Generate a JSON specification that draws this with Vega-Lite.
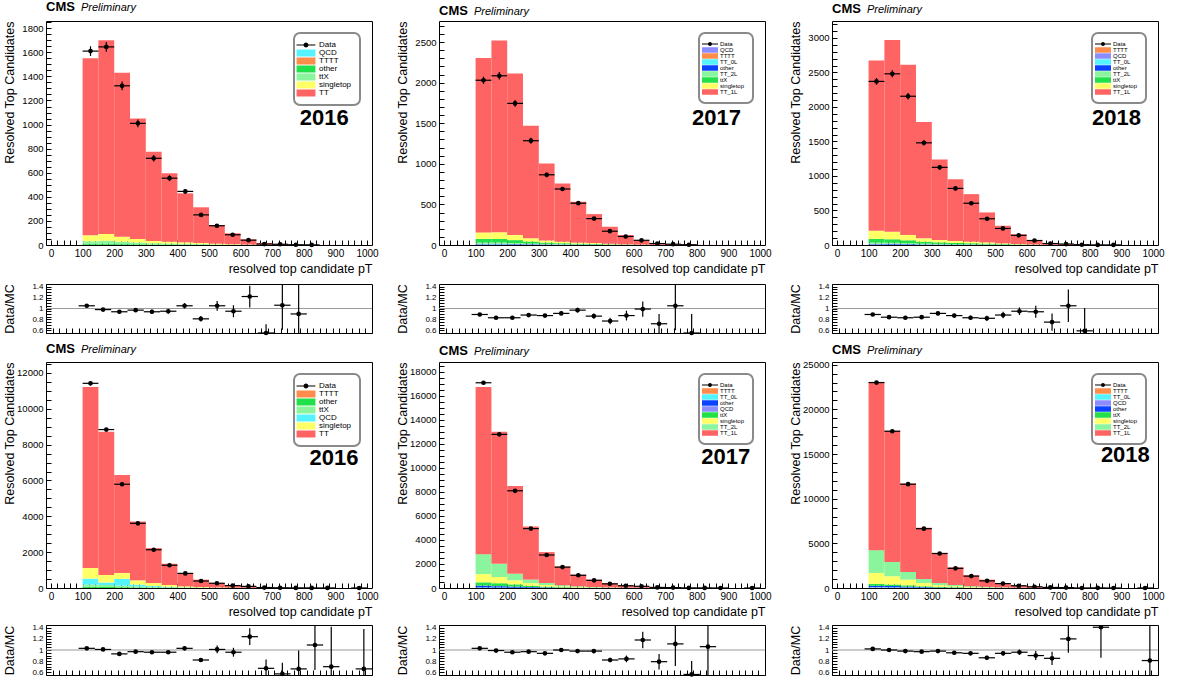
{
  "$schema": "https://vega.github.io/schema/vega-lite/v6.json",
  "background": "white",
  "padding": {"left": 2, "top": 0, "right": 0, "bottom": 0},
  "spacing": 4,
  "resolve": {"scale": {"color": "independent"}, "legend": {"color": "independent"}},
  "datasets": {
    "hA16": [
      {"lo":100,"hi":150,"QCD":1,"TTTT":1,"other":7,"ttX":22,"singletop":49,"TT":1471},
      {"lo":150,"hi":200,"QCD":1,"TTTT":1,"other":8,"ttX":25,"singletop":56,"TT":1609},
      {"lo":200,"hi":250,"QCD":1,"TTTT":1,"other":6,"ttX":20,"singletop":41,"TT":1361},
      {"lo":250,"hi":300,"QCD":0,"TTTT":1,"other":5,"ttX":15,"singletop":29,"TT":1000},
      {"lo":300,"hi":350,"QCD":0,"TTTT":1,"other":4,"ttX":10,"singletop":18,"TT":742},
      {"lo":350,"hi":400,"QCD":0,"TTTT":1,"other":3,"ttX":9,"singletop":15,"TT":567},
      {"lo":400,"hi":450,"QCD":0,"TTTT":1,"other":3,"ttX":7,"singletop":11,"TT":407},
      {"lo":450,"hi":500,"QCD":0,"TTTT":1,"other":2,"ttX":6,"singletop":8,"TT":296},
      {"lo":500,"hi":550,"QCD":0,"TTTT":0,"other":1,"ttX":4,"singletop":6,"TT":155},
      {"lo":550,"hi":600,"QCD":0,"TTTT":0,"other":1,"ttX":2,"singletop":4,"TT":90},
      {"lo":600,"hi":650,"QCD":0,"TTTT":0,"other":1,"ttX":1,"singletop":2,"TT":43},
      {"lo":650,"hi":700,"QCD":0,"TTTT":0,"other":0,"ttX":1,"singletop":1,"TT":15},
      {"lo":700,"hi":750,"QCD":0,"TTTT":0,"other":0,"ttX":0,"singletop":1,"TT":7},
      {"lo":750,"hi":800,"QCD":0,"TTTT":0,"other":0,"ttX":0,"singletop":0,"TT":3},
      {"lo":800,"hi":850,"QCD":0,"TTTT":0,"other":0,"ttX":0,"singletop":0,"TT":1.5},
      {"lo":850,"hi":900,"QCD":0,"TTTT":0,"other":0,"ttX":0,"singletop":0,"TT":0.6},
      {"lo":900,"hi":950,"QCD":0,"TTTT":0,"other":0,"ttX":0,"singletop":0,"TT":0.3},
      {"lo":950,"hi":1000,"QCD":0,"TTTT":0,"other":0,"ttX":0,"singletop":0,"TT":0.2}
    ],
    "dA16": [
      {"lo":100,"hi":150,"c":125,"n":1610,"ne":40,"r":1.05,"re":0.03},
      {"lo":150,"hi":200,"c":175,"n":1645,"ne":41,"r":0.98,"re":0.03},
      {"lo":200,"hi":250,"c":225,"n":1322,"ne":36,"r":0.94,"re":0.03},
      {"lo":250,"hi":300,"c":275,"n":1010,"ne":32,"r":0.97,"re":0.035},
      {"lo":300,"hi":350,"c":325,"n":720,"ne":27,"r":0.94,"re":0.04},
      {"lo":350,"hi":400,"c":375,"n":555,"ne":24,"r":0.95,"re":0.045},
      {"lo":400,"hi":450,"c":425,"n":445,"ne":21,"r":1.05,"re":0.05},
      {"lo":450,"hi":500,"c":475,"n":250,"ne":16,"r":0.81,"re":0.05},
      {"lo":500,"hi":550,"c":525,"n":160,"ne":13,"r":1.05,"re":0.09},
      {"lo":550,"hi":600,"c":575,"n":85,"ne":9,"r":0.95,"re":0.11},
      {"lo":600,"hi":650,"c":625,"n":40,"ne":6,"r":1.22,"re":0.2},
      {"lo":650,"hi":700,"c":675,"n":8,"ne":3,"r":0.53,"re":0.18},
      {"lo":700,"hi":750,"c":725,"n":6,"ne":2.5,"r":1.06,"re":0.45},
      {"lo":750,"hi":800,"c":775,"n":2,"ne":1.4,"r":0.9,"re":0.6},
      {"lo":800,"hi":850,"c":825,"n":1,"ne":1}
    ],
    "hA17": [
      {"lo":100,"hi":150,"QCD":3,"TTTT":1,"TT_0L":5,"other":6,"TT_2L":15,"ttX":45,"singletop":80,"TT_1L":2150},
      {"lo":150,"hi":200,"QCD":3,"TTTT":1,"TT_0L":5,"other":7,"TT_2L":14,"ttX":43,"singletop":85,"TT_1L":2362},
      {"lo":200,"hi":250,"QCD":2,"TTTT":1,"TT_0L":4,"other":6,"TT_2L":12,"ttX":35,"singletop":62,"TT_1L":1990},
      {"lo":250,"hi":300,"QCD":1,"TTTT":1,"TT_0L":3,"other":5,"TT_2L":8,"ttX":25,"singletop":40,"TT_1L":1385},
      {"lo":300,"hi":350,"QCD":1,"TTTT":1,"TT_0L":2,"other":4,"TT_2L":6,"ttX":16,"singletop":24,"TT_1L":950},
      {"lo":350,"hi":400,"QCD":0,"TTTT":1,"TT_0L":2,"other":3,"TT_2L":5,"ttX":12,"singletop":18,"TT_1L":717},
      {"lo":400,"hi":450,"QCD":0,"TTTT":1,"TT_0L":1,"other":2,"TT_2L":4,"ttX":9,"singletop":12,"TT_1L":504},
      {"lo":450,"hi":500,"QCD":0,"TTTT":1,"TT_0L":1,"other":2,"TT_2L":3,"ttX":7,"singletop":10,"TT_1L":357},
      {"lo":500,"hi":550,"QCD":0,"TTTT":0,"TT_0L":1,"other":1,"TT_2L":2,"ttX":5,"singletop":6,"TT_1L":210},
      {"lo":550,"hi":600,"QCD":0,"TTTT":0,"TT_0L":0,"other":1,"TT_2L":1,"ttX":3,"singletop":4,"TT_1L":114},
      {"lo":600,"hi":650,"QCD":0,"TTTT":0,"TT_0L":0,"other":0,"TT_2L":1,"ttX":2,"singletop":2,"TT_1L":56},
      {"lo":650,"hi":700,"QCD":0,"TTTT":0,"TT_0L":0,"other":0,"TT_2L":0,"ttX":1,"singletop":1,"TT_1L":23},
      {"lo":700,"hi":750,"QCD":0,"TTTT":0,"TT_0L":0,"other":0,"TT_2L":0,"ttX":0,"singletop":0,"TT_1L":10},
      {"lo":750,"hi":800,"QCD":0,"TTTT":0,"TT_0L":0,"other":0,"TT_2L":0,"ttX":0,"singletop":0,"TT_1L":5},
      {"lo":800,"hi":850,"QCD":0,"TTTT":0,"TT_0L":0,"other":0,"TT_2L":0,"ttX":0,"singletop":0,"TT_1L":2},
      {"lo":850,"hi":900,"QCD":0,"TTTT":0,"TT_0L":0,"other":0,"TT_2L":0,"ttX":0,"singletop":0,"TT_1L":1},
      {"lo":900,"hi":950,"QCD":0,"TTTT":0,"TT_0L":0,"other":0,"TT_2L":0,"ttX":0,"singletop":0,"TT_1L":0.5},
      {"lo":950,"hi":1000,"QCD":0,"TTTT":0,"TT_0L":0,"other":0,"TT_2L":0,"ttX":0,"singletop":0,"TT_1L":0.3}
    ],
    "dA17": [
      {"lo":100,"hi":150,"c":125,"n":2030,"ne":45,"r":0.89,"re":0.025},
      {"lo":150,"hi":200,"c":175,"n":2085,"ne":46,"r":0.83,"re":0.025},
      {"lo":200,"hi":250,"c":225,"n":1745,"ne":42,"r":0.83,"re":0.025},
      {"lo":250,"hi":300,"c":275,"n":1285,"ne":36,"r":0.88,"re":0.03},
      {"lo":300,"hi":350,"c":325,"n":865,"ne":29,"r":0.87,"re":0.03},
      {"lo":350,"hi":400,"c":375,"n":690,"ne":26,"r":0.91,"re":0.035},
      {"lo":400,"hi":450,"c":425,"n":515,"ne":23,"r":0.97,"re":0.045},
      {"lo":450,"hi":500,"c":475,"n":325,"ne":18,"r":0.86,"re":0.05},
      {"lo":500,"hi":550,"c":525,"n":170,"ne":13,"r":0.77,"re":0.06},
      {"lo":550,"hi":600,"c":575,"n":105,"ne":10,"r":0.87,"re":0.09},
      {"lo":600,"hi":650,"c":625,"n":58,"ne":8,"r":0.99,"re":0.14},
      {"lo":650,"hi":700,"c":675,"n":18,"ne":4,"r":0.72,"re":0.18},
      {"lo":700,"hi":750,"c":725,"n":10,"ne":3,"r":1.05,"re":0.45},
      {"lo":750,"hi":800,"c":775,"n":3,"ne":1.7,"r":0.53,"re":0.37}
    ],
    "hA18": [
      {"lo":100,"hi":150,"TTTT":1,"QCD":3,"TT_0L":5,"other":8,"TT_2L":18,"ttX":52,"singletop":118,"TT_1L":2467},
      {"lo":150,"hi":200,"TTTT":1,"QCD":3,"TT_0L":5,"other":8,"TT_2L":17,"ttX":50,"singletop":108,"TT_1L":2779},
      {"lo":200,"hi":250,"TTTT":1,"QCD":2,"TT_0L":4,"other":7,"TT_2L":14,"ttX":40,"singletop":76,"TT_1L":2466},
      {"lo":250,"hi":300,"TTTT":1,"QCD":1,"TT_0L":3,"other":5,"TT_2L":10,"ttX":28,"singletop":48,"TT_1L":1685},
      {"lo":300,"hi":350,"TTTT":1,"QCD":1,"TT_0L":2,"other":4,"TT_2L":8,"ttX":22,"singletop":34,"TT_1L":1165},
      {"lo":350,"hi":400,"TTTT":1,"QCD":0,"TT_0L":2,"other":3,"TT_2L":6,"ttX":18,"singletop":28,"TT_1L":895},
      {"lo":400,"hi":450,"TTTT":1,"QCD":0,"TT_0L":1,"other":3,"TT_2L":5,"ttX":15,"singletop":23,"TT_1L":689},
      {"lo":450,"hi":500,"TTTT":1,"QCD":0,"TT_0L":1,"other":2,"TT_2L":4,"ttX":12,"singletop":18,"TT_1L":434},
      {"lo":500,"hi":550,"TTTT":0,"QCD":0,"TT_0L":1,"other":1,"TT_2L":3,"ttX":8,"singletop":11,"TT_1L":255},
      {"lo":550,"hi":600,"TTTT":0,"QCD":0,"TT_0L":0,"other":1,"TT_2L":2,"ttX":5,"singletop":6,"TT_1L":140},
      {"lo":600,"hi":650,"TTTT":0,"QCD":0,"TT_0L":0,"other":0,"TT_2L":1,"ttX":3,"singletop":3,"TT_1L":65},
      {"lo":650,"hi":700,"TTTT":0,"QCD":0,"TT_0L":0,"other":0,"TT_2L":0,"ttX":1,"singletop":2,"TT_1L":26},
      {"lo":700,"hi":750,"TTTT":0,"QCD":0,"TT_0L":0,"other":0,"TT_2L":0,"ttX":0,"singletop":1,"TT_1L":13},
      {"lo":750,"hi":800,"TTTT":0,"QCD":0,"TT_0L":0,"other":0,"TT_2L":0,"ttX":0,"singletop":0,"TT_1L":6},
      {"lo":800,"hi":850,"TTTT":0,"QCD":0,"TT_0L":0,"other":0,"TT_2L":0,"ttX":0,"singletop":0,"TT_1L":3},
      {"lo":850,"hi":900,"TTTT":0,"QCD":0,"TT_0L":0,"other":0,"TT_2L":0,"ttX":0,"singletop":0,"TT_1L":1.5},
      {"lo":900,"hi":950,"TTTT":0,"QCD":0,"TT_0L":0,"other":0,"TT_2L":0,"ttX":0,"singletop":0,"TT_1L":0.8},
      {"lo":950,"hi":1000,"TTTT":0,"QCD":0,"TT_0L":0,"other":0,"TT_2L":0,"ttX":0,"singletop":0,"TT_1L":0.4}
    ],
    "dA18": [
      {"lo":100,"hi":150,"c":125,"n":2370,"ne":49,"r":0.89,"re":0.025},
      {"lo":150,"hi":200,"c":175,"n":2480,"ne":50,"r":0.84,"re":0.025},
      {"lo":200,"hi":250,"c":225,"n":2155,"ne":46,"r":0.83,"re":0.025},
      {"lo":250,"hi":300,"c":275,"n":1480,"ne":38,"r":0.84,"re":0.03},
      {"lo":300,"hi":350,"c":325,"n":1125,"ne":34,"r":0.91,"re":0.03},
      {"lo":350,"hi":400,"c":375,"n":820,"ne":29,"r":0.87,"re":0.035},
      {"lo":400,"hi":450,"c":425,"n":605,"ne":25,"r":0.83,"re":0.04},
      {"lo":450,"hi":500,"c":475,"n":380,"ne":19,"r":0.82,"re":0.045},
      {"lo":500,"hi":550,"c":525,"n":240,"ne":15,"r":0.88,"re":0.06},
      {"lo":550,"hi":600,"c":575,"n":140,"ne":12,"r":0.95,"re":0.07},
      {"lo":600,"hi":650,"c":625,"n":65,"ne":8,"r":0.94,"re":0.11},
      {"lo":650,"hi":700,"c":675,"n":21,"ne":4.6,"r":0.75,"re":0.16},
      {"lo":700,"hi":750,"c":725,"n":14,"ne":3.7,"r":1.05,"re":0.3},
      {"lo":750,"hi":800,"c":775,"n":4,"ne":2,"r":0.59,"re":0.42},
      {"lo":800,"hi":850,"c":825,"n":1,"ne":1},
      {"lo":850,"hi":900,"c":875,"n":1,"ne":1}
    ],
    "hB16": [
      {"lo":100,"hi":150,"TTTT":3,"other":60,"ttX":130,"QCD":330,"singletop":590,"TT":10108},
      {"lo":150,"hi":200,"TTTT":3,"other":50,"ttX":110,"QCD":150,"singletop":410,"TT":7994},
      {"lo":200,"hi":250,"TTTT":3,"other":40,"ttX":90,"QCD":370,"singletop":330,"TT":5473},
      {"lo":250,"hi":300,"TTTT":2,"other":30,"ttX":60,"QCD":95,"singletop":240,"TT":3282},
      {"lo":300,"hi":350,"TTTT":2,"other":20,"ttX":40,"QCD":50,"singletop":165,"TT":1948},
      {"lo":350,"hi":400,"TTTT":1,"other":14,"ttX":28,"QCD":25,"singletop":100,"TT":1186},
      {"lo":400,"hi":450,"TTTT":1,"other":9,"ttX":18,"QCD":10,"singletop":55,"TT":742},
      {"lo":450,"hi":500,"TTTT":1,"other":6,"ttX":11,"QCD":5,"singletop":30,"TT":411},
      {"lo":500,"hi":550,"TTTT":0,"other":4,"ttX":7,"QCD":2,"singletop":17,"TT":248},
      {"lo":550,"hi":600,"TTTT":0,"other":2,"ttX":4,"QCD":1,"singletop":9,"TT":132},
      {"lo":600,"hi":650,"TTTT":0,"other":1,"ttX":2,"QCD":0,"singletop":5,"TT":66},
      {"lo":650,"hi":700,"TTTT":0,"other":1,"ttX":1,"QCD":0,"singletop":2,"TT":33},
      {"lo":700,"hi":750,"TTTT":0,"other":0,"ttX":0,"QCD":0,"singletop":2,"TT":18},
      {"lo":750,"hi":800,"TTTT":0,"other":0,"ttX":0,"QCD":0,"singletop":1,"TT":9},
      {"lo":800,"hi":850,"TTTT":0,"other":0,"ttX":0,"QCD":0,"singletop":0,"TT":5},
      {"lo":850,"hi":900,"TTTT":0,"other":0,"ttX":0,"QCD":0,"singletop":0,"TT":3},
      {"lo":900,"hi":950,"TTTT":0,"other":0,"ttX":0,"QCD":0,"singletop":0,"TT":2},
      {"lo":950,"hi":1000,"TTTT":0,"other":0,"ttX":0,"QCD":0,"singletop":0,"TT":1.5}
    ],
    "dB16": [
      {"lo":100,"hi":150,"c":125,"n":11420,"ne":107,"r":1.03,"re":0.015},
      {"lo":150,"hi":200,"c":175,"n":8840,"ne":94,"r":1.01,"re":0.015},
      {"lo":200,"hi":250,"c":225,"n":5790,"ne":76,"r":0.93,"re":0.015},
      {"lo":250,"hi":300,"c":275,"n":3610,"ne":60,"r":0.97,"re":0.02},
      {"lo":300,"hi":350,"c":325,"n":2135,"ne":46,"r":0.96,"re":0.025},
      {"lo":350,"hi":400,"c":375,"n":1270,"ne":36,"r":0.96,"re":0.03},
      {"lo":400,"hi":450,"c":425,"n":815,"ne":29,"r":1.03,"re":0.035},
      {"lo":450,"hi":500,"c":475,"n":390,"ne":20,"r":0.82,"re":0.035},
      {"lo":500,"hi":550,"c":525,"n":265,"ne":16,"r":1.01,"re":0.07},
      {"lo":550,"hi":600,"c":575,"n":135,"ne":12,"r":0.96,"re":0.08},
      {"lo":600,"hi":650,"c":625,"n":90,"ne":9.5,"r":1.24,"re":0.15},
      {"lo":650,"hi":700,"c":675,"n":25,"ne":5,"r":0.67,"re":0.16},
      {"lo":700,"hi":750,"c":725,"n":11,"ne":3.3,"r":0.57,"re":0.2},
      {"lo":750,"hi":800,"c":775,"n":6.5,"ne":2.5,"r":0.66,"re":0.33},
      {"lo":800,"hi":850,"c":825,"n":5.4,"ne":2.3,"r":1.09,"re":0.45},
      {"lo":850,"hi":900,"c":875,"n":2,"ne":1.4,"r":0.7,"re":0.72},
      {"lo":950,"hi":1000,"c":975,"n":1,"ne":1,"r":0.66,"re":0.72}
    ],
    "hB17": [
      {"lo":100,"hi":150,"TTTT":10,"TT_0L":40,"other":120,"QCD":30,"ttX":270,"singletop":690,"TT_2L":1660,"TT_1L":13934},
      {"lo":150,"hi":200,"TTTT":8,"TT_0L":30,"other":100,"QCD":20,"ttX":240,"singletop":520,"TT_2L":1100,"TT_1L":10998},
      {"lo":200,"hi":250,"TTTT":6,"TT_0L":20,"other":80,"QCD":15,"ttX":180,"singletop":340,"TT_2L":540,"TT_1L":7321},
      {"lo":250,"hi":300,"TTTT":4,"TT_0L":12,"other":55,"QCD":8,"ttX":110,"singletop":220,"TT_2L":290,"TT_1L":4424},
      {"lo":300,"hi":350,"TTTT":3,"TT_0L":7,"other":35,"QCD":5,"ttX":70,"singletop":130,"TT_2L":165,"TT_1L":2576},
      {"lo":350,"hi":400,"TTTT":2,"TT_0L":4,"other":20,"QCD":3,"ttX":40,"singletop":75,"TT_2L":90,"TT_1L":1566},
      {"lo":400,"hi":450,"TTTT":1,"TT_0L":2,"other":12,"QCD":2,"ttX":25,"singletop":45,"TT_2L":55,"TT_1L":966},
      {"lo":450,"hi":500,"TTTT":1,"TT_0L":1,"other":7,"QCD":1,"ttX":15,"singletop":27,"TT_2L":33,"TT_1L":607},
      {"lo":500,"hi":550,"TTTT":1,"TT_0L":1,"other":4,"QCD":0,"ttX":9,"singletop":16,"TT_2L":20,"TT_1L":364},
      {"lo":550,"hi":600,"TTTT":0,"TT_0L":0,"other":2,"QCD":0,"ttX":5,"singletop":9,"TT_2L":11,"TT_1L":193},
      {"lo":600,"hi":650,"TTTT":0,"TT_0L":0,"other":1,"QCD":0,"ttX":3,"singletop":5,"TT_2L":6,"TT_1L":105},
      {"lo":650,"hi":700,"TTTT":0,"TT_0L":0,"other":1,"QCD":0,"ttX":1,"singletop":2,"TT_2L":3,"TT_1L":53},
      {"lo":700,"hi":750,"TTTT":0,"TT_0L":0,"other":0,"QCD":0,"ttX":0,"singletop":1,"TT_2L":2,"TT_1L":27},
      {"lo":750,"hi":800,"TTTT":0,"TT_0L":0,"other":0,"QCD":0,"ttX":0,"singletop":0,"TT_2L":1,"TT_1L":14},
      {"lo":800,"hi":850,"TTTT":0,"TT_0L":0,"other":0,"QCD":0,"ttX":0,"singletop":0,"TT_2L":0,"TT_1L":8},
      {"lo":850,"hi":900,"TTTT":0,"TT_0L":0,"other":0,"QCD":0,"ttX":0,"singletop":0,"TT_2L":0,"TT_1L":4},
      {"lo":900,"hi":950,"TTTT":0,"TT_0L":0,"other":0,"QCD":0,"ttX":0,"singletop":0,"TT_2L":0,"TT_1L":2},
      {"lo":950,"hi":1000,"TTTT":0,"TT_0L":0,"other":0,"QCD":0,"ttX":0,"singletop":0,"TT_2L":0,"TT_1L":1}
    ],
    "dB17": [
      {"lo":100,"hi":150,"c":125,"n":17100,"ne":131,"r":1.03,"re":0.012},
      {"lo":150,"hi":200,"c":175,"n":12800,"ne":113,"r":0.99,"re":0.012},
      {"lo":200,"hi":250,"c":225,"n":8100,"ne":90,"r":0.96,"re":0.015},
      {"lo":250,"hi":300,"c":275,"n":4950,"ne":70,"r":0.97,"re":0.018},
      {"lo":300,"hi":350,"c":325,"n":2750,"ne":52,"r":0.94,"re":0.02},
      {"lo":350,"hi":400,"c":375,"n":1740,"ne":42,"r":1.0,"re":0.025},
      {"lo":400,"hi":450,"c":425,"n":1060,"ne":33,"r":0.98,"re":0.03},
      {"lo":450,"hi":500,"c":475,"n":640,"ne":25,"r":0.98,"re":0.04},
      {"lo":500,"hi":550,"c":525,"n":344,"ne":19,"r":0.82,"re":0.04},
      {"lo":550,"hi":600,"c":575,"n":187,"ne":14,"r":0.84,"re":0.06},
      {"lo":600,"hi":650,"c":625,"n":142,"ne":12,"r":1.18,"re":0.15},
      {"lo":650,"hi":700,"c":675,"n":48,"ne":7,"r":0.79,"re":0.14},
      {"lo":700,"hi":750,"c":725,"n":34,"ne":6,"r":1.11,"re":0.4},
      {"lo":750,"hi":800,"c":775,"n":8,"ne":2.8,"r":0.56,"re":0.24},
      {"lo":800,"hi":850,"c":825,"n":8.4,"ne":2.9,"r":1.06,"re":0.6},
      {"lo":850,"hi":900,"c":875,"n":1,"ne":1},
      {"lo":950,"hi":1000,"c":975,"n":1,"ne":1}
    ],
    "hB18": [
      {"lo":100,"hi":150,"TTTT":15,"TT_0L":50,"QCD":40,"other":150,"ttX":200,"singletop":1230,"TT_2L":2550,"TT_1L":18816},
      {"lo":150,"hi":200,"TTTT":12,"TT_0L":40,"QCD":30,"other":130,"ttX":180,"singletop":920,"TT_2L":1610,"TT_1L":14694},
      {"lo":200,"hi":250,"TTTT":9,"TT_0L":30,"QCD":20,"other":100,"ttX":140,"singletop":640,"TT_2L":860,"TT_1L":9895},
      {"lo":250,"hi":300,"TTTT":6,"TT_0L":18,"QCD":10,"other":65,"ttX":90,"singletop":370,"TT_2L":450,"TT_1L":5738},
      {"lo":300,"hi":350,"TTTT":4,"TT_0L":10,"QCD":6,"other":40,"ttX":55,"singletop":200,"TT_2L":240,"TT_1L":3381},
      {"lo":350,"hi":400,"TTTT":3,"TT_0L":6,"QCD":3,"other":25,"ttX":35,"singletop":115,"TT_2L":135,"TT_1L":2002},
      {"lo":400,"hi":450,"TTTT":2,"TT_0L":3,"QCD":2,"other":15,"ttX":22,"singletop":70,"TT_2L":80,"TT_1L":1230},
      {"lo":450,"hi":500,"TTTT":1,"TT_0L":2,"QCD":1,"other":10,"ttX":14,"singletop":45,"TT_2L":50,"TT_1L":814},
      {"lo":500,"hi":550,"TTTT":1,"TT_0L":1,"QCD":0,"other":6,"ttX":8,"singletop":25,"TT_2L":28,"TT_1L":456},
      {"lo":550,"hi":600,"TTTT":0,"TT_0L":0,"QCD":0,"other":3,"ttX":4,"singletop":13,"TT_2L":15,"TT_1L":227},
      {"lo":600,"hi":650,"TTTT":0,"TT_0L":0,"QCD":0,"other":2,"ttX":2,"singletop":7,"TT_2L":8,"TT_1L":131},
      {"lo":650,"hi":700,"TTTT":0,"TT_0L":0,"QCD":0,"other":1,"ttX":1,"singletop":3,"TT_2L":4,"TT_1L":66},
      {"lo":700,"hi":750,"TTTT":0,"TT_0L":0,"QCD":0,"other":0,"ttX":0,"singletop":2,"TT_2L":3,"TT_1L":35},
      {"lo":750,"hi":800,"TTTT":0,"TT_0L":0,"QCD":0,"other":0,"ttX":0,"singletop":1,"TT_2L":1,"TT_1L":18},
      {"lo":800,"hi":850,"TTTT":0,"TT_0L":0,"QCD":0,"other":0,"ttX":0,"singletop":0,"TT_2L":0,"TT_1L":10},
      {"lo":850,"hi":900,"TTTT":0,"TT_0L":0,"QCD":0,"other":0,"ttX":0,"singletop":0,"TT_2L":0,"TT_1L":5},
      {"lo":900,"hi":950,"TTTT":0,"TT_0L":0,"QCD":0,"other":0,"ttX":0,"singletop":0,"TT_2L":0,"TT_1L":3},
      {"lo":950,"hi":1000,"TTTT":0,"TT_0L":0,"QCD":0,"other":0,"ttX":0,"singletop":0,"TT_2L":0,"TT_1L":1.5}
    ],
    "dB18": [
      {"lo":100,"hi":150,"c":125,"n":23000,"ne":152,"r":1.02,"re":0.01},
      {"lo":150,"hi":200,"c":175,"n":17550,"ne":132,"r":1.0,"re":0.01},
      {"lo":200,"hi":250,"c":225,"n":11620,"ne":108,"r":0.98,"re":0.012},
      {"lo":250,"hi":300,"c":275,"n":6640,"ne":81,"r":0.97,"re":0.015},
      {"lo":300,"hi":350,"c":325,"n":3860,"ne":62,"r":0.98,"re":0.02},
      {"lo":350,"hi":400,"c":375,"n":2200,"ne":47,"r":0.95,"re":0.025},
      {"lo":400,"hi":450,"c":425,"n":1330,"ne":36,"r":0.94,"re":0.03},
      {"lo":450,"hi":500,"c":475,"n":800,"ne":28,"r":0.86,"re":0.035},
      {"lo":500,"hi":550,"c":525,"n":494,"ne":22,"r":0.94,"re":0.04},
      {"lo":550,"hi":600,"c":575,"n":251,"ne":16,"r":0.96,"re":0.05},
      {"lo":600,"hi":650,"c":625,"n":135,"ne":12,"r":0.9,"re":0.08},
      {"lo":650,"hi":700,"c":675,"n":64,"ne":8,"r":0.85,"re":0.12},
      {"lo":700,"hi":750,"c":725,"n":48,"ne":7,"r":1.2,"re":0.25},
      {"lo":750,"hi":800,"c":775,"n":0.5,"ne":0.5},
      {"lo":800,"hi":850,"c":825,"n":14,"ne":3.7,"r":1.41,"re":0.55},
      {"lo":850,"hi":900,"c":875,"n":0.5,"ne":0.5},
      {"lo":950,"hi":1000,"c":975,"n":1.2,"ne":1.1,"r":0.81,"re":0.9}
    ]
  },
  "vconcat": [
    {
      "spacing": 4,
      "resolve": {"scale": {"color": "independent"}, "legend": {"color": "independent"}},
      "vconcat": [
        {
          "bounds": "flush",
          "spacing": 67,
          "resolve": {"scale": {"color": "independent"}, "legend": {"color": "independent"}},
          "hconcat": [
            {
              "width": 326, "height": 224,
              "title": {"text": "CMS", "subtitle": "Preliminary", "encode": {"subtitle": {"update": {"dx": {"value": 35}}}}},
              "layer": [
                {
                  "data": {"name": "hA16"},
                  "transform": [
                    {"fold": ["QCD","TTTT","other","ttX","singletop","TT"]},
                    {"window": [{"op": "row_number", "as": "k"}], "groupby": ["lo"]}
                  ],
                  "mark": {"type": "bar", "orient": "vertical", "strokeWidth": 0},
                  "encoding": {
                    "x": {"field": "lo", "type": "quantitative", "scale": {"domain": [0, 1000], "nice": false}, "axis": {"values": [0,20,40,60,80,100,120,140,160,180,200,220,240,260,280,300,320,340,360,380,400,420,440,460,480,500,520,540,560,580,600,620,640,660,680,700,720,740,760,780,800,820,840,860,880,900,920,940,960,980,1000], "tickCount": 500, "format": "d", "labelExpr": "datum.value % 100 === 0 ? datum.label : ''", "labelOverlap": false, "labelFlush": false, "titleAnchor": "end"}, "title": "resolved top candidate pT"},
                    "x2": {"field": "hi"},
                    "y": {"field": "value", "type": "quantitative", "stack": "zero", "scale": {"domain": [0, 1860], "nice": false}, "axis": {"values": [0,50,100,150,200,250,300,350,400,450,500,550,600,650,700,750,800,850,900,950,1000,1050,1100,1150,1200,1250,1300,1350,1400,1450,1500,1550,1600,1650,1700,1750,1800,1850], "tickCount": 500, "format": "d", "labelExpr": "datum.value % 200 === 0 ? datum.label : ''", "labelOverlap": false, "titleAnchor": "end"}, "title": "Resolved Top Candidates"},
                    "color": {"field": "key", "type": "nominal", "title": null,
                      "scale": {"domain": ["Data","QCD","TTTT","other","ttX","singletop","TT"], "range": ["#000000","#55f2ff","#ff8c4a","#22e04a","#8af59c","#ffff66","#ff6464"]},
                      "legend": {"labelFontSize": 8, "symbolSize": 49, "labelOffset": 9,
                        "encode": {"symbols": {"update": {"shape": {"signal": "datum.value === 'Data' ? 'M-2.7,-0.17H2.7V0.17H-2.7ZM-0.7,0A0.7,0.7 0 1,1 0.7,0A0.7,0.7 0 1,1 -0.7,0Z' : 'M-2.7,-1H2.7V1H-2.7Z'"}}}}}},
                    "order": {"field": "k", "type": "quantitative"}
                  }
                },
                {"data": {"name": "dA16"}, "mark": "rule", "encoding": {"x": {"field": "lo", "type": "quantitative"}, "x2": {"field": "hi"}, "y": {"field": "n", "type": "quantitative"}}},
                {"data": {"name": "dA16"}, "mark": {"type": "errorbar", "ticks": false, "thickness": 1.2}, "encoding": {"x": {"field": "c", "type": "quantitative"}, "y": {"field": "n", "type": "quantitative", "title": "Resolved Top Candidates"}, "yError": {"field": "ne"}}},
                {"data": {"name": "dA16"}, "mark": "circle", "encoding": {"x": {"field": "c", "type": "quantitative"}, "y": {"field": "n", "type": "quantitative"}}},
                {"data": {"values": [{"year": "2016"}]}, "mark": "text", "encoding": {"x": {"datum": 942}, "y": {"datum": 1054}, "text": {"field": "year"}}}
              ]
            },
            {
              "width": 326, "height": 224,
              "title": {"text": "CMS", "subtitle": "Preliminary", "encode": {"subtitle": {"update": {"dx": {"value": 35}}}}},
              "layer": [
                {
                  "data": {"name": "hA17"},
                  "transform": [
                    {"fold": ["QCD","TTTT","TT_0L","other","TT_2L","ttX","singletop","TT_1L"]},
                    {"window": [{"op": "row_number", "as": "k"}], "groupby": ["lo"]}
                  ],
                  "mark": {"type": "bar", "orient": "vertical", "strokeWidth": 0},
                  "encoding": {
                    "x": {"field": "lo", "type": "quantitative", "scale": {"domain": [0, 1000], "nice": false}, "axis": {"values": [0,20,40,60,80,100,120,140,160,180,200,220,240,260,280,300,320,340,360,380,400,420,440,460,480,500,520,540,560,580,600,620,640,660,680,700,720,740,760,780,800,820,840,860,880,900,920,940,960,980,1000], "tickCount": 500, "format": "d", "labelExpr": "datum.value % 100 === 0 ? datum.label : ''", "labelOverlap": false, "labelFlush": false, "titleAnchor": "end"}, "title": "resolved top candidate pT"},
                    "x2": {"field": "hi"},
                    "y": {"field": "value", "type": "quantitative", "stack": "zero", "scale": {"domain": [0, 2760], "nice": false}, "axis": {"values": [0,100,200,300,400,500,600,700,800,900,1000,1100,1200,1300,1400,1500,1600,1700,1800,1900,2000,2100,2200,2300,2400,2500,2600,2700], "tickCount": 500, "format": "d", "labelExpr": "datum.value % 500 === 0 ? datum.label : ''", "labelOverlap": false, "titleAnchor": "end"}, "title": "Resolved Top Candidates"},
                    "color": {"field": "key", "type": "nominal", "title": null,
                      "scale": {"domain": ["Data","QCD","TTTT","TT_0L","other","TT_2L","ttX","singletop","TT_1L"], "range": ["#000000","#8c8cff","#ff8c4a","#55f2ff","#0a42ff","#8af59c","#22e04a","#ffff66","#ff6464"]},
                      "legend": {"labelFontSize": 6, "symbolSize": 25, "labelOffset": 7,
                        "encode": {"symbols": {"update": {"shape": {"signal": "datum.value === 'Data' ? 'M-3.2,-0.2H3.2V0.2H-3.2ZM-0.8,0A0.8,0.8 0 1,1 0.8,0A0.8,0.8 0 1,1 -0.8,0Z' : 'M-3.2,-1.1H3.2V1.1H-3.2Z'"}}}}}},
                    "order": {"field": "k", "type": "quantitative"}
                  }
                },
                {"data": {"name": "dA17"}, "mark": "rule", "encoding": {"x": {"field": "lo", "type": "quantitative"}, "x2": {"field": "hi"}, "y": {"field": "n", "type": "quantitative"}}},
                {"data": {"name": "dA17"}, "mark": {"type": "errorbar", "ticks": false, "thickness": 1.2}, "encoding": {"x": {"field": "c", "type": "quantitative"}, "y": {"field": "n", "type": "quantitative", "title": "Resolved Top Candidates"}, "yError": {"field": "ne"}}},
                {"data": {"name": "dA17"}, "mark": "circle", "encoding": {"x": {"field": "c", "type": "quantitative"}, "y": {"field": "n", "type": "quantitative"}}},
                {"data": {"values": [{"year": "2017"}]}, "mark": "text", "encoding": {"x": {"datum": 940}, "y": {"datum": 1565}, "text": {"field": "year"}}}
              ]
            },
            {
              "width": 326, "height": 224,
              "title": {"text": "CMS", "subtitle": "Preliminary", "encode": {"subtitle": {"update": {"dx": {"value": 35}}}}},
              "layer": [
                {
                  "data": {"name": "hA18"},
                  "transform": [
                    {"fold": ["TTTT","QCD","TT_0L","other","TT_2L","ttX","singletop","TT_1L"]},
                    {"window": [{"op": "row_number", "as": "k"}], "groupby": ["lo"]}
                  ],
                  "mark": {"type": "bar", "orient": "vertical", "strokeWidth": 0},
                  "encoding": {
                    "x": {"field": "lo", "type": "quantitative", "scale": {"domain": [0, 1000], "nice": false}, "axis": {"values": [0,20,40,60,80,100,120,140,160,180,200,220,240,260,280,300,320,340,360,380,400,420,440,460,480,500,520,540,560,580,600,620,640,660,680,700,720,740,760,780,800,820,840,860,880,900,920,940,960,980,1000], "tickCount": 500, "format": "d", "labelExpr": "datum.value % 100 === 0 ? datum.label : ''", "labelOverlap": false, "labelFlush": false, "titleAnchor": "end"}, "title": "resolved top candidate pT"},
                    "x2": {"field": "hi"},
                    "y": {"field": "value", "type": "quantitative", "stack": "zero", "scale": {"domain": [0, 3245], "nice": false}, "axis": {"values": [0,100,200,300,400,500,600,700,800,900,1000,1100,1200,1300,1400,1500,1600,1700,1800,1900,2000,2100,2200,2300,2400,2500,2600,2700,2800,2900,3000,3100,3200], "tickCount": 500, "format": "d", "labelExpr": "datum.value % 500 === 0 ? datum.label : ''", "labelOverlap": false, "titleAnchor": "end"}, "title": "Resolved Top Candidates"},
                    "color": {"field": "key", "type": "nominal", "title": null,
                      "scale": {"domain": ["Data","TTTT","QCD","TT_0L","other","TT_2L","ttX","singletop","TT_1L"], "range": ["#000000","#ff8c4a","#8c8cff","#55f2ff","#0a42ff","#8af59c","#22e04a","#ffff66","#ff6464"]},
                      "legend": {"labelFontSize": 6, "symbolSize": 25, "labelOffset": 7,
                        "encode": {"symbols": {"update": {"shape": {"signal": "datum.value === 'Data' ? 'M-3.2,-0.2H3.2V0.2H-3.2ZM-0.8,0A0.8,0.8 0 1,1 0.8,0A0.8,0.8 0 1,1 -0.8,0Z' : 'M-3.2,-1.1H3.2V1.1H-3.2Z'"}}}}}},
                    "order": {"field": "k", "type": "quantitative"}
                  }
                },
                {"data": {"name": "dA18"}, "mark": "rule", "encoding": {"x": {"field": "lo", "type": "quantitative"}, "x2": {"field": "hi"}, "y": {"field": "n", "type": "quantitative"}}},
                {"data": {"name": "dA18"}, "mark": {"type": "errorbar", "ticks": false, "thickness": 1.2}, "encoding": {"x": {"field": "c", "type": "quantitative"}, "y": {"field": "n", "type": "quantitative", "title": "Resolved Top Candidates"}, "yError": {"field": "ne"}}},
                {"data": {"name": "dA18"}, "mark": "circle", "encoding": {"x": {"field": "c", "type": "quantitative"}, "y": {"field": "n", "type": "quantitative"}}},
                {"data": {"values": [{"year": "2018"}]}, "mark": "text", "encoding": {"x": {"datum": 962}, "y": {"datum": 1844}, "text": {"field": "year"}}}
              ]
            }
          ]
        },
        {
          "bounds": "flush",
          "spacing": 67,
          "resolve": {"scale": {"color": "independent"}, "legend": {"color": "independent"}},
          "hconcat": [
            {
              "width": 326, "height": 49,
              "layer": [
                {"data": {"values": [{}]}, "mark": {"type": "rule", "color": "#9a9a9a", "strokeWidth": 1.2}, "encoding": {"y": {"datum": 1, "type": "quantitative", "scale": {"domain": [0.55, 1.45], "nice": false, "clamp": true}, "axis": {"values": [0.55,0.6,0.65,0.7,0.75,0.8,0.85,0.9,0.95,1,1.05,1.1,1.15,1.2,1.25,1.3,1.35,1.4,1.45], "tickCount": 500, "format": "~g", "labelFontSize": 8, "labelExpr": "abs(datum.value*5 - round(datum.value*5)) < 0.001 ? datum.label : ''", "labelOverlap": false, "titleAnchor": "middle"}, "title": "Data/MC"}}},
                {"data": {"name": "dA16"}, "mark": "rule", "encoding": {"x": {"field": "lo", "type": "quantitative", "scale": {"domain": [0, 1000], "nice": false}, "axis": {"values": [0,20,40,60,80,100,120,140,160,180,200,220,240,260,280,300,320,340,360,380,400,420,440,460,480,500,520,540,560,580,600,620,640,660,680,700,720,740,760,780,800,820,840,860,880,900,920,940,960,980,1000], "tickCount": 500, "labels": false}, "title": null}, "x2": {"field": "hi"}, "y": {"field": "r", "type": "quantitative"}}},
                {"data": {"name": "dA16"}, "mark": {"type": "errorbar", "ticks": false, "thickness": 1.2}, "encoding": {"x": {"field": "c", "type": "quantitative"}, "y": {"field": "r", "type": "quantitative", "title": "Data/MC"}, "yError": {"field": "re"}}},
                {"data": {"name": "dA16"}, "mark": "circle", "encoding": {"x": {"field": "c", "type": "quantitative"}, "y": {"field": "r", "type": "quantitative"}}}
              ]
            },
            {
              "width": 326, "height": 49,
              "layer": [
                {"data": {"values": [{}]}, "mark": {"type": "rule", "color": "#9a9a9a", "strokeWidth": 1.2}, "encoding": {"y": {"datum": 1, "type": "quantitative", "scale": {"domain": [0.55, 1.45], "nice": false, "clamp": true}, "axis": {"values": [0.55,0.6,0.65,0.7,0.75,0.8,0.85,0.9,0.95,1,1.05,1.1,1.15,1.2,1.25,1.3,1.35,1.4,1.45], "tickCount": 500, "format": "~g", "labelFontSize": 8, "labelExpr": "abs(datum.value*5 - round(datum.value*5)) < 0.001 ? datum.label : ''", "labelOverlap": false, "titleAnchor": "middle"}, "title": "Data/MC"}}},
                {"data": {"name": "dA17"}, "mark": "rule", "encoding": {"x": {"field": "lo", "type": "quantitative", "scale": {"domain": [0, 1000], "nice": false}, "axis": {"values": [0,20,40,60,80,100,120,140,160,180,200,220,240,260,280,300,320,340,360,380,400,420,440,460,480,500,520,540,560,580,600,620,640,660,680,700,720,740,760,780,800,820,840,860,880,900,920,940,960,980,1000], "tickCount": 500, "labels": false}, "title": null}, "x2": {"field": "hi"}, "y": {"field": "r", "type": "quantitative"}}},
                {"data": {"name": "dA17"}, "mark": {"type": "errorbar", "ticks": false, "thickness": 1.2}, "encoding": {"x": {"field": "c", "type": "quantitative"}, "y": {"field": "r", "type": "quantitative", "title": "Data/MC"}, "yError": {"field": "re"}}},
                {"data": {"name": "dA17"}, "mark": "circle", "encoding": {"x": {"field": "c", "type": "quantitative"}, "y": {"field": "r", "type": "quantitative"}}}
              ]
            },
            {
              "width": 326, "height": 49,
              "layer": [
                {"data": {"values": [{}]}, "mark": {"type": "rule", "color": "#9a9a9a", "strokeWidth": 1.2}, "encoding": {"y": {"datum": 1, "type": "quantitative", "scale": {"domain": [0.55, 1.45], "nice": false, "clamp": true}, "axis": {"values": [0.55,0.6,0.65,0.7,0.75,0.8,0.85,0.9,0.95,1,1.05,1.1,1.15,1.2,1.25,1.3,1.35,1.4,1.45], "tickCount": 500, "format": "~g", "labelFontSize": 8, "labelExpr": "abs(datum.value*5 - round(datum.value*5)) < 0.001 ? datum.label : ''", "labelOverlap": false, "titleAnchor": "middle"}, "title": "Data/MC"}}},
                {"data": {"name": "dA18"}, "mark": "rule", "encoding": {"x": {"field": "lo", "type": "quantitative", "scale": {"domain": [0, 1000], "nice": false}, "axis": {"values": [0,20,40,60,80,100,120,140,160,180,200,220,240,260,280,300,320,340,360,380,400,420,440,460,480,500,520,540,560,580,600,620,640,660,680,700,720,740,760,780,800,820,840,860,880,900,920,940,960,980,1000], "tickCount": 500, "labels": false}, "title": null}, "x2": {"field": "hi"}, "y": {"field": "r", "type": "quantitative"}}},
                {"data": {"name": "dA18"}, "mark": {"type": "errorbar", "ticks": false, "thickness": 1.2}, "encoding": {"x": {"field": "c", "type": "quantitative"}, "y": {"field": "r", "type": "quantitative", "title": "Data/MC"}, "yError": {"field": "re"}}},
                {"data": {"name": "dA18"}, "mark": "circle", "encoding": {"x": {"field": "c", "type": "quantitative"}, "y": {"field": "r", "type": "quantitative"}}}
              ]
            }
          ]
        }
      ]
    },
    {
      "spacing": 2,
      "resolve": {"scale": {"color": "independent"}, "legend": {"color": "independent"}},
      "vconcat": [
        {
          "bounds": "flush",
          "spacing": 67,
          "resolve": {"scale": {"color": "independent"}, "legend": {"color": "independent"}},
          "hconcat": [
            {
              "width": 326, "height": 226,
              "title": {"text": "CMS", "subtitle": "Preliminary", "encode": {"subtitle": {"update": {"dx": {"value": 35}}}}},
              "layer": [
                {
                  "data": {"name": "hB16"},
                  "transform": [
                    {"fold": ["TTTT","other","ttX","QCD","singletop","TT"]},
                    {"window": [{"op": "row_number", "as": "k"}], "groupby": ["lo"]}
                  ],
                  "mark": {"type": "bar", "orient": "vertical", "strokeWidth": 0},
                  "encoding": {
                    "x": {"field": "lo", "type": "quantitative", "scale": {"domain": [0, 1000], "nice": false}, "axis": {"values": [0,20,40,60,80,100,120,140,160,180,200,220,240,260,280,300,320,340,360,380,400,420,440,460,480,500,520,540,560,580,600,620,640,660,680,700,720,740,760,780,800,820,840,860,880,900,920,940,960,980,1000], "tickCount": 500, "format": "d", "labelExpr": "datum.value % 100 === 0 ? datum.label : ''", "labelOverlap": false, "labelFlush": false, "titleAnchor": "end"}, "title": "resolved top candidate pT"},
                    "x2": {"field": "hi"},
                    "y": {"field": "value", "type": "quantitative", "stack": "zero", "scale": {"domain": [0, 12610], "nice": false}, "axis": {"values": [0,500,1000,1500,2000,2500,3000,3500,4000,4500,5000,5500,6000,6500,7000,7500,8000,8500,9000,9500,10000,10500,11000,11500,12000,12500], "tickCount": 500, "format": "d", "labelExpr": "datum.value % 2000 === 0 ? datum.label : ''", "labelOverlap": false, "titleAnchor": "end"}, "title": "Resolved Top Candidates"},
                    "color": {"field": "key", "type": "nominal", "title": null,
                      "scale": {"domain": ["Data","TTTT","other","ttX","QCD","singletop","TT"], "range": ["#000000","#ff8c4a","#22e04a","#8af59c","#55f2ff","#ffff66","#ff6464"]},
                      "legend": {"labelFontSize": 8, "symbolSize": 49, "labelOffset": 9,
                        "encode": {"symbols": {"update": {"shape": {"signal": "datum.value === 'Data' ? 'M-2.7,-0.17H2.7V0.17H-2.7ZM-0.7,0A0.7,0.7 0 1,1 0.7,0A0.7,0.7 0 1,1 -0.7,0Z' : 'M-2.7,-1H2.7V1H-2.7Z'"}}}}}},
                    "order": {"field": "k", "type": "quantitative"}
                  }
                },
                {"data": {"name": "dB16"}, "mark": "rule", "encoding": {"x": {"field": "lo", "type": "quantitative"}, "x2": {"field": "hi"}, "y": {"field": "n", "type": "quantitative"}}},
                {"data": {"name": "dB16"}, "mark": {"type": "errorbar", "ticks": false, "thickness": 1.2}, "encoding": {"x": {"field": "c", "type": "quantitative"}, "y": {"field": "n", "type": "quantitative", "title": "Resolved Top Candidates"}, "yError": {"field": "ne"}}},
                {"data": {"name": "dB16"}, "mark": "circle", "encoding": {"x": {"field": "c", "type": "quantitative"}, "y": {"field": "n", "type": "quantitative"}}},
                {"data": {"values": [{"year": "2016"}]}, "mark": "text", "encoding": {"x": {"datum": 973}, "y": {"datum": 7270}, "text": {"field": "year"}}}
              ]
            },
            {
              "width": 326, "height": 226,
              "title": {"text": "CMS", "subtitle": "Preliminary", "encode": {"subtitle": {"update": {"dx": {"value": 35}}}}},
              "layer": [
                {
                  "data": {"name": "hB17"},
                  "transform": [
                    {"fold": ["TTTT","TT_0L","other","QCD","ttX","singletop","TT_2L","TT_1L"]},
                    {"window": [{"op": "row_number", "as": "k"}], "groupby": ["lo"]}
                  ],
                  "mark": {"type": "bar", "orient": "vertical", "strokeWidth": 0},
                  "encoding": {
                    "x": {"field": "lo", "type": "quantitative", "scale": {"domain": [0, 1000], "nice": false}, "axis": {"values": [0,20,40,60,80,100,120,140,160,180,200,220,240,260,280,300,320,340,360,380,400,420,440,460,480,500,520,540,560,580,600,620,640,660,680,700,720,740,760,780,800,820,840,860,880,900,920,940,960,980,1000], "tickCount": 500, "format": "d", "labelExpr": "datum.value % 100 === 0 ? datum.label : ''", "labelOverlap": false, "labelFlush": false, "titleAnchor": "end"}, "title": "resolved top candidate pT"},
                    "x2": {"field": "hi"},
                    "y": {"field": "value", "type": "quantitative", "stack": "zero", "scale": {"domain": [0, 18830], "nice": false}, "axis": {"values": [0,500,1000,1500,2000,2500,3000,3500,4000,4500,5000,5500,6000,6500,7000,7500,8000,8500,9000,9500,10000,10500,11000,11500,12000,12500,13000,13500,14000,14500,15000,15500,16000,16500,17000,17500,18000,18500], "tickCount": 500, "format": "d", "labelExpr": "datum.value % 2000 === 0 ? datum.label : ''", "labelOverlap": false, "titleAnchor": "end"}, "title": "Resolved Top Candidates"},
                    "color": {"field": "key", "type": "nominal", "title": null,
                      "scale": {"domain": ["Data","TTTT","TT_0L","other","QCD","ttX","singletop","TT_2L","TT_1L"], "range": ["#000000","#ff8c4a","#55f2ff","#0a42ff","#8c8cff","#22e04a","#ffff66","#8af59c","#ff6464"]},
                      "legend": {"labelFontSize": 6, "symbolSize": 25, "labelOffset": 7,
                        "encode": {"symbols": {"update": {"shape": {"signal": "datum.value === 'Data' ? 'M-3.2,-0.2H3.2V0.2H-3.2ZM-0.8,0A0.8,0.8 0 1,1 0.8,0A0.8,0.8 0 1,1 -0.8,0Z' : 'M-3.2,-1.1H3.2V1.1H-3.2Z'"}}}}}},
                    "order": {"field": "k", "type": "quantitative"}
                  }
                },
                {"data": {"name": "dB17"}, "mark": "rule", "encoding": {"x": {"field": "lo", "type": "quantitative"}, "x2": {"field": "hi"}, "y": {"field": "n", "type": "quantitative"}}},
                {"data": {"name": "dB17"}, "mark": {"type": "errorbar", "ticks": false, "thickness": 1.2}, "encoding": {"x": {"field": "c", "type": "quantitative"}, "y": {"field": "n", "type": "quantitative", "title": "Resolved Top Candidates"}, "yError": {"field": "ne"}}},
                {"data": {"name": "dB17"}, "mark": "circle", "encoding": {"x": {"field": "c", "type": "quantitative"}, "y": {"field": "n", "type": "quantitative"}}},
                {"data": {"values": [{"year": "2017"}]}, "mark": "text", "encoding": {"x": {"datum": 969}, "y": {"datum": 10940}, "text": {"field": "year"}}}
              ]
            },
            {
              "width": 326, "height": 226,
              "title": {"text": "CMS", "subtitle": "Preliminary", "encode": {"subtitle": {"update": {"dx": {"value": 35}}}}},
              "layer": [
                {
                  "data": {"name": "hB18"},
                  "transform": [
                    {"fold": ["TTTT","TT_0L","QCD","other","ttX","singletop","TT_2L","TT_1L"]},
                    {"window": [{"op": "row_number", "as": "k"}], "groupby": ["lo"]}
                  ],
                  "mark": {"type": "bar", "orient": "vertical", "strokeWidth": 0},
                  "encoding": {
                    "x": {"field": "lo", "type": "quantitative", "scale": {"domain": [0, 1000], "nice": false}, "axis": {"values": [0,20,40,60,80,100,120,140,160,180,200,220,240,260,280,300,320,340,360,380,400,420,440,460,480,500,520,540,560,580,600,620,640,660,680,700,720,740,760,780,800,820,840,860,880,900,920,940,960,980,1000], "tickCount": 500, "format": "d", "labelExpr": "datum.value % 100 === 0 ? datum.label : ''", "labelOverlap": false, "labelFlush": false, "titleAnchor": "end"}, "title": "resolved top candidate pT"},
                    "x2": {"field": "hi"},
                    "y": {"field": "value", "type": "quantitative", "stack": "zero", "scale": {"domain": [0, 25300], "nice": false}, "axis": {"values": [0,1000,2000,3000,4000,5000,6000,7000,8000,9000,10000,11000,12000,13000,14000,15000,16000,17000,18000,19000,20000,21000,22000,23000,24000,25000], "tickCount": 500, "format": "d", "labelExpr": "datum.value % 5000 === 0 ? datum.label : ''", "labelOverlap": false, "titleAnchor": "end"}, "title": "Resolved Top Candidates"},
                    "color": {"field": "key", "type": "nominal", "title": null,
                      "scale": {"domain": ["Data","TTTT","TT_0L","QCD","other","ttX","singletop","TT_2L","TT_1L"], "range": ["#000000","#ff8c4a","#55f2ff","#8c8cff","#0a42ff","#22e04a","#ffff66","#8af59c","#ff6464"]},
                      "legend": {"labelFontSize": 6, "symbolSize": 25, "labelOffset": 7,
                        "encode": {"symbols": {"update": {"shape": {"signal": "datum.value === 'Data' ? 'M-3.2,-0.2H3.2V0.2H-3.2ZM-0.8,0A0.8,0.8 0 1,1 0.8,0A0.8,0.8 0 1,1 -0.8,0Z' : 'M-3.2,-1.1H3.2V1.1H-3.2Z'"}}}}}},
                    "order": {"field": "k", "type": "quantitative"}
                  }
                },
                {"data": {"name": "dB18"}, "mark": "rule", "encoding": {"x": {"field": "lo", "type": "quantitative"}, "x2": {"field": "hi"}, "y": {"field": "n", "type": "quantitative"}}},
                {"data": {"name": "dB18"}, "mark": {"type": "errorbar", "ticks": false, "thickness": 1.2}, "encoding": {"x": {"field": "c", "type": "quantitative"}, "y": {"field": "n", "type": "quantitative", "title": "Resolved Top Candidates"}, "yError": {"field": "ne"}}},
                {"data": {"name": "dB18"}, "mark": "circle", "encoding": {"x": {"field": "c", "type": "quantitative"}, "y": {"field": "n", "type": "quantitative"}}},
                {"data": {"values": [{"year": "2018"}]}, "mark": "text", "encoding": {"x": {"datum": 990}, "y": {"datum": 14880}, "text": {"field": "year"}}}
              ]
            }
          ]
        },
        {
          "bounds": "flush",
          "spacing": 67,
          "resolve": {"scale": {"color": "independent"}, "legend": {"color": "independent"}},
          "hconcat": [
            {
              "width": 326, "height": 50,
              "layer": [
                {"data": {"values": [{}]}, "mark": {"type": "rule", "color": "#9a9a9a", "strokeWidth": 1.2}, "encoding": {"y": {"datum": 1, "type": "quantitative", "scale": {"domain": [0.55, 1.45], "nice": false, "clamp": true}, "axis": {"values": [0.55,0.6,0.65,0.7,0.75,0.8,0.85,0.9,0.95,1,1.05,1.1,1.15,1.2,1.25,1.3,1.35,1.4,1.45], "tickCount": 500, "format": "~g", "labelFontSize": 8, "labelExpr": "abs(datum.value*5 - round(datum.value*5)) < 0.001 ? datum.label : ''", "labelOverlap": false, "titleAnchor": "middle"}, "title": "Data/MC"}}},
                {"data": {"name": "dB16"}, "mark": "rule", "encoding": {"x": {"field": "lo", "type": "quantitative", "scale": {"domain": [0, 1000], "nice": false}, "axis": {"values": [0,20,40,60,80,100,120,140,160,180,200,220,240,260,280,300,320,340,360,380,400,420,440,460,480,500,520,540,560,580,600,620,640,660,680,700,720,740,760,780,800,820,840,860,880,900,920,940,960,980,1000], "tickCount": 500, "labels": false}, "title": null}, "x2": {"field": "hi"}, "y": {"field": "r", "type": "quantitative"}}},
                {"data": {"name": "dB16"}, "mark": {"type": "errorbar", "ticks": false, "thickness": 1.2}, "encoding": {"x": {"field": "c", "type": "quantitative"}, "y": {"field": "r", "type": "quantitative", "title": "Data/MC"}, "yError": {"field": "re"}}},
                {"data": {"name": "dB16"}, "mark": "circle", "encoding": {"x": {"field": "c", "type": "quantitative"}, "y": {"field": "r", "type": "quantitative"}}}
              ]
            },
            {
              "width": 326, "height": 50,
              "layer": [
                {"data": {"values": [{}]}, "mark": {"type": "rule", "color": "#9a9a9a", "strokeWidth": 1.2}, "encoding": {"y": {"datum": 1, "type": "quantitative", "scale": {"domain": [0.55, 1.45], "nice": false, "clamp": true}, "axis": {"values": [0.55,0.6,0.65,0.7,0.75,0.8,0.85,0.9,0.95,1,1.05,1.1,1.15,1.2,1.25,1.3,1.35,1.4,1.45], "tickCount": 500, "format": "~g", "labelFontSize": 8, "labelExpr": "abs(datum.value*5 - round(datum.value*5)) < 0.001 ? datum.label : ''", "labelOverlap": false, "titleAnchor": "middle"}, "title": "Data/MC"}}},
                {"data": {"name": "dB17"}, "mark": "rule", "encoding": {"x": {"field": "lo", "type": "quantitative", "scale": {"domain": [0, 1000], "nice": false}, "axis": {"values": [0,20,40,60,80,100,120,140,160,180,200,220,240,260,280,300,320,340,360,380,400,420,440,460,480,500,520,540,560,580,600,620,640,660,680,700,720,740,760,780,800,820,840,860,880,900,920,940,960,980,1000], "tickCount": 500, "labels": false}, "title": null}, "x2": {"field": "hi"}, "y": {"field": "r", "type": "quantitative"}}},
                {"data": {"name": "dB17"}, "mark": {"type": "errorbar", "ticks": false, "thickness": 1.2}, "encoding": {"x": {"field": "c", "type": "quantitative"}, "y": {"field": "r", "type": "quantitative", "title": "Data/MC"}, "yError": {"field": "re"}}},
                {"data": {"name": "dB17"}, "mark": "circle", "encoding": {"x": {"field": "c", "type": "quantitative"}, "y": {"field": "r", "type": "quantitative"}}}
              ]
            },
            {
              "width": 326, "height": 50,
              "layer": [
                {"data": {"values": [{}]}, "mark": {"type": "rule", "color": "#9a9a9a", "strokeWidth": 1.2}, "encoding": {"y": {"datum": 1, "type": "quantitative", "scale": {"domain": [0.55, 1.45], "nice": false, "clamp": true}, "axis": {"values": [0.55,0.6,0.65,0.7,0.75,0.8,0.85,0.9,0.95,1,1.05,1.1,1.15,1.2,1.25,1.3,1.35,1.4,1.45], "tickCount": 500, "format": "~g", "labelFontSize": 8, "labelExpr": "abs(datum.value*5 - round(datum.value*5)) < 0.001 ? datum.label : ''", "labelOverlap": false, "titleAnchor": "middle"}, "title": "Data/MC"}}},
                {"data": {"name": "dB18"}, "mark": "rule", "encoding": {"x": {"field": "lo", "type": "quantitative", "scale": {"domain": [0, 1000], "nice": false}, "axis": {"values": [0,20,40,60,80,100,120,140,160,180,200,220,240,260,280,300,320,340,360,380,400,420,440,460,480,500,520,540,560,580,600,620,640,660,680,700,720,740,760,780,800,820,840,860,880,900,920,940,960,980,1000], "tickCount": 500, "labels": false}, "title": null}, "x2": {"field": "hi"}, "y": {"field": "r", "type": "quantitative"}}},
                {"data": {"name": "dB18"}, "mark": {"type": "errorbar", "ticks": false, "thickness": 1.2}, "encoding": {"x": {"field": "c", "type": "quantitative"}, "y": {"field": "r", "type": "quantitative", "title": "Data/MC"}, "yError": {"field": "re"}}},
                {"data": {"name": "dB18"}, "mark": "circle", "encoding": {"x": {"field": "c", "type": "quantitative"}, "y": {"field": "r", "type": "quantitative"}}}
              ]
            }
          ]
        }
      ]
    }
  ],
  "config": {
    "font": "Liberation Sans",
    "view": {"stroke": "#000000", "strokeWidth": 1},
    "axis": {
      "grid": false, "domain": false, "ticks": true, "tickColor": "#000000", "tickWidth": 1, "tickSize": -5, "labelOverlap": false,
      "labelPadding": 8, "labelFont": "Liberation Sans", "labelFontSize": 10, "labelColor": "#000000",
      "titleFont": "Liberation Sans", "titleFontSize": 12.5, "titleFontWeight": "normal", "titleColor": "#000000", "titlePadding": 4
    },
    "axisY": {"minExtent": 29, "maxExtent": 29, "titlePadding": 1, "labelFontSize": 9.5},
    "title": {
      "anchor": "start", "frame": "group", "font": "Liberation Sans", "fontSize": 13, "fontWeight": "bold", "color": "#000000", "offset": 3,
      "subtitleFont": "Liberation Sans", "subtitleFontSize": 11, "subtitleFontStyle": "italic", "subtitleColor": "#000000", "subtitlePadding": -12
    },
    "legend": {
      "orient": "top-right", "offset": 12, "padding": 8, "strokeColor": "#8a8a8a", "strokeWidth": 2, "cornerRadius": 6, "fillColor": "#ffffff",
      "labelFont": "Liberation Sans", "labelColor": "#000000", "symbolStrokeWidth": 0, "symbolOpacity": 1, "rowPadding": 0
    },
    "rule": {"color": "#000000", "strokeWidth": 1.2},
    "circle": {"size": 22, "color": "#000000", "opacity": 1},
    "text": {"font": "Liberation Sans", "fontSize": 22, "fontWeight": "bold", "align": "right", "baseline": "middle", "color": "#000000"}
  }
}
